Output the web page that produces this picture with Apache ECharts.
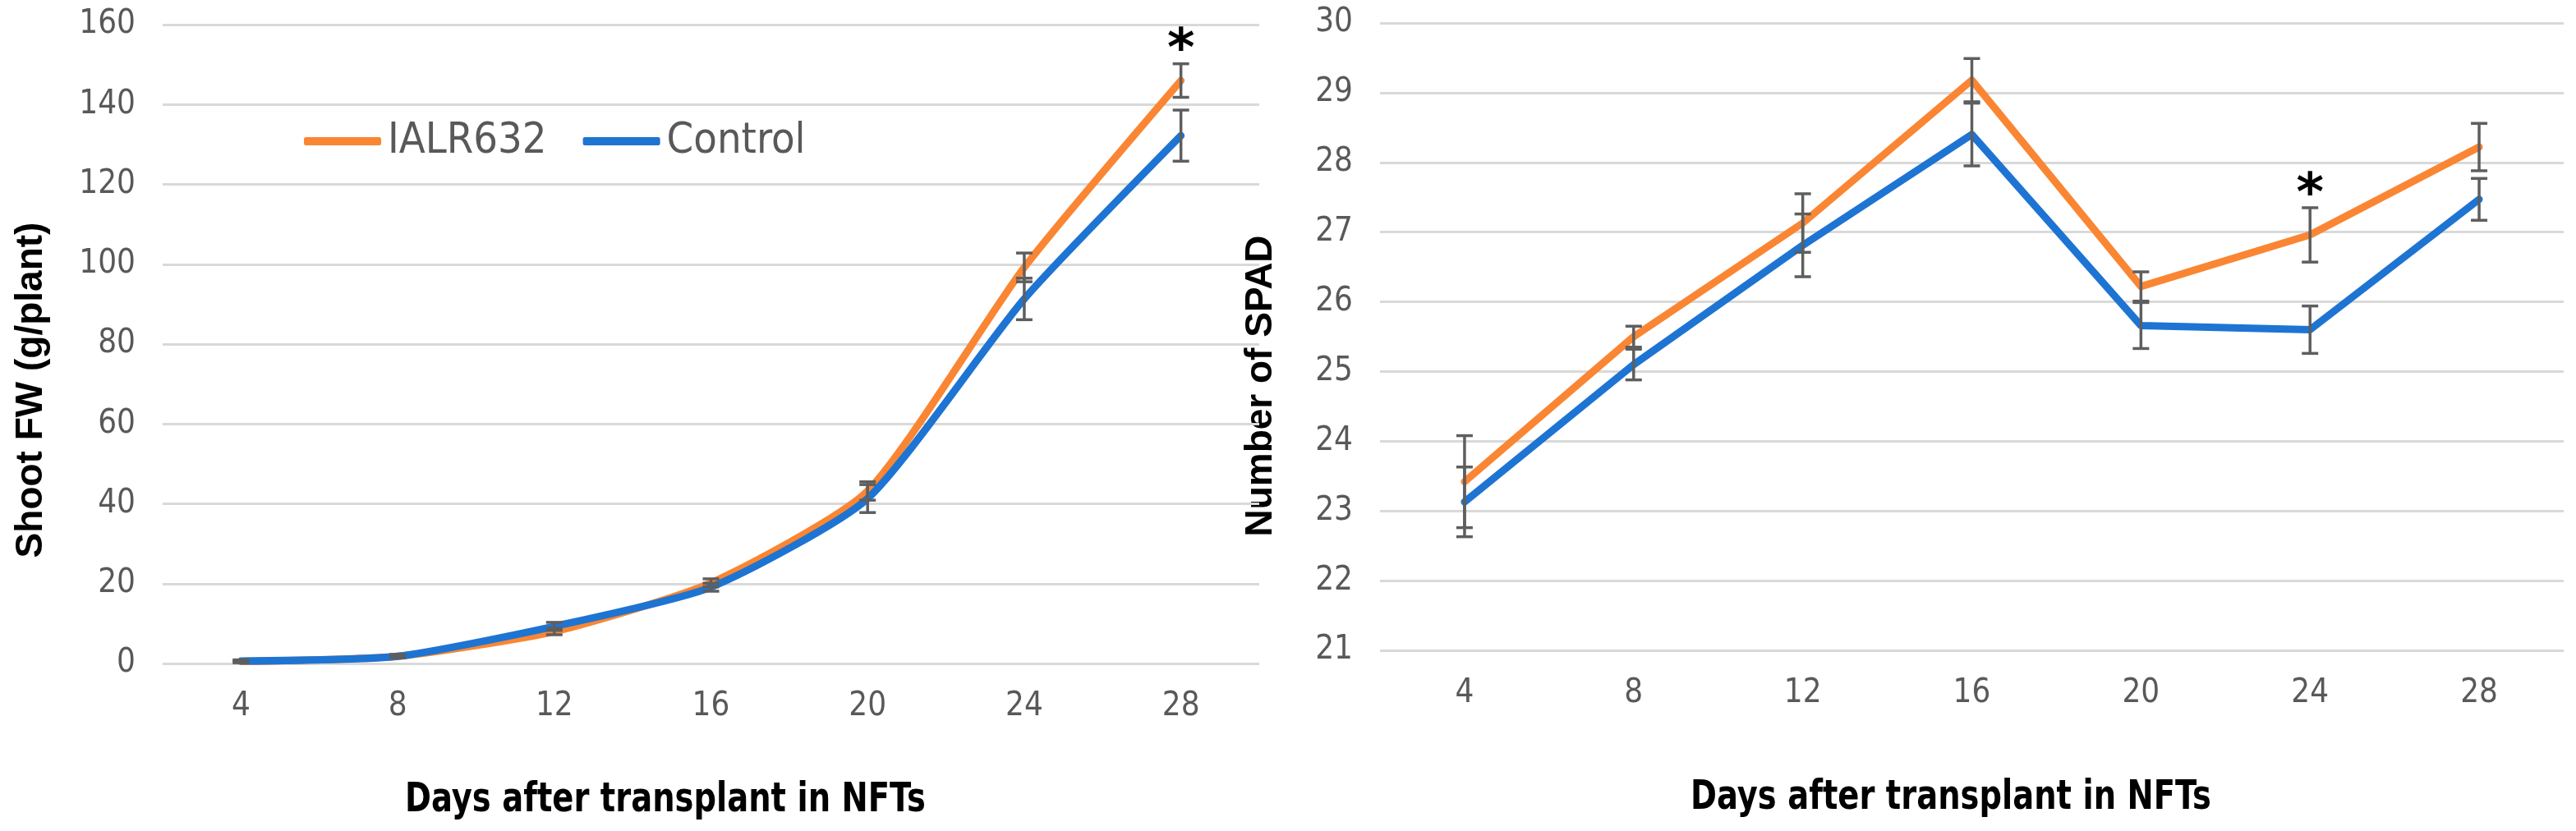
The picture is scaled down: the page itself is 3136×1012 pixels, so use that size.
<!DOCTYPE html>
<html><head><meta charset="utf-8">
<script src="https://cdn.jsdelivr.net/npm/echarts@6/dist/echarts.min.js"></script>
<style>html,body{margin:0;padding:0;background:#fff}#c{width:3136px;height:1012px}</style>
</head><body><div id="c"></div>
<script>
// ---- data ----
const days = ['4', '8', '12', '16', '20', '24', '28'];
const seriesNames = ['IALR632', 'Control'];

const fwIALR = [0.5, 1.8, 8.0, 20.2, 43.2, 99.2, 146.0];
const fwIALRErr = [0.3, 0.4, 0.8, 1.0, 2.3, 3.6, 4.2];
const fwControl = [0.6, 1.8, 9.3, 19.1, 41.3, 91.3, 132.2];
const fwControlErr = [0.3, 0.4, 1.0, 1.0, 3.5, 5.2, 6.4];
const fwSig = [0, 0, 0, 0, 0, 0, 1];

const spadIALR = [23.42, 25.50, 27.13, 29.18, 26.22, 26.96, 28.22];
const spadIALRErr = [0.66, 0.15, 0.42, 0.31, 0.21, 0.39, 0.34];
const spadControl = [23.13, 25.10, 26.81, 28.40, 25.66, 25.60, 27.47];
const spadControlErr = [0.50, 0.22, 0.45, 0.45, 0.33, 0.34, 0.30];
const spadSig = [0, 0, 0, 0, 0, 1, 0];

const fwAxis = { min: 0, max: 160, interval: 20 };
const spadAxis = { min: 21, max: 30, interval: 1 };

const axisTitles = {
  fwY: 'Shoot FW (g/plant)',
  spadY: 'Number of SPAD',
  x: 'Days after transplant in NFTs'
};

// ---- styles ----
const FONT = "'Liberation Sans Narrow','DejaVu Sans Condensed','Liberation Sans',sans-serif";
const ORANGE = '#FA8633', BLUE = '#1E74D2', ERR = '#5E5E5E', GRID = '#D9D9D9', TICK = '#595959';

const chart = echarts.init(document.getElementById('c'), null, { renderer: 'canvas' });

function errSeries(idx, values, errs, sig) {
  return {
    type: 'custom', xAxisIndex: idx, yAxisIndex: idx, z: 5, silent: true,
    data: values.map((v, i) => [i, v, errs[i], sig ? sig[i] : 0]),
    renderItem(params, api) {
      const i = api.value(0), v = api.value(1), e = api.value(2), s = api.value(3);
      const top = api.coord([i, v + e]), bot = api.coord([i, v - e]);
      const hw = 10, lw = 3.5;
      const st = { stroke: ERR, lineWidth: lw };
      const children = [
        { type: 'line', shape: { x1: top[0], y1: top[1], x2: bot[0], y2: bot[1] }, style: st },
        { type: 'line', shape: { x1: top[0] - hw, y1: top[1], x2: top[0] + hw, y2: top[1] }, style: st },
        { type: 'line', shape: { x1: bot[0] - hw, y1: bot[1], x2: bot[0] + hw, y2: bot[1] }, style: st }
      ];
      if (s) {
        children.push({ type: 'text', x: top[0], y: top[1] - 14,
          style: { text: '*', fill: '#000', font: "bold 64px 'DejaVu Sans'", align: 'center', verticalAlign: 'middle' } });
      }
      return { type: 'group', children };
    }
  };
}

function lineSeries(name, idx, data, color, smooth) {
  return {
    type: 'line', name, xAxisIndex: idx, yAxisIndex: idx, data, smooth,
    symbol: 'none', silent: true, z: 2,
    lineStyle: { color, width: 9, cap: 'round', join: 'round' },
    itemStyle: { color }
  };
}

const xAxisBase = (gi) => ({
  type: 'category', gridIndex: gi, data: days, boundaryGap: true,
  axisLine: { show: false }, axisTick: { show: false },
  axisLabel: { color: TICK, fontSize: 40, fontFamily: FONT, margin: 33 }
});
const yAxisBase = (gi, ax) => ({
  type: 'value', gridIndex: gi, min: ax.min, max: ax.max, interval: ax.interval,
  axisLine: { show: false }, axisTick: { show: false },
  splitLine: { lineStyle: { color: GRID, width: 3 } },
  axisLabel: { color: TICK, fontSize: 40, fontFamily: FONT, margin: 33 }
});

const titleFontX = "bold 50px 'DejaVu Sans', sans-serif";
const titleFontY = "bold 46px 'Liberation Sans', Arial, sans-serif";

const option = {
  animation: false,
  backgroundColor: '#fff',
  grid: [
    { left: 198, top: 30, width: 1335, height: 778, outerBoundsMode: 'none' },
    { left: 1680, top: 28, width: 1441, height: 764, outerBoundsMode: 'none' }
  ],
  xAxis: [xAxisBase(0), xAxisBase(1)],
  yAxis: [yAxisBase(0, fwAxis), yAxisBase(1, spadAxis)],
  legend: {
    data: seriesNames, left: 370, top: 146, icon: 'roundRect',
    itemWidth: 94, itemHeight: 10, itemGap: 44, padding: 0, selectedMode: false,
    textStyle: { fontSize: 52, color: TICK, fontFamily: FONT, padding: [0, 0, 0, 3] }
  },
  graphic: [
    { type: 'text', x: 38, y: 475, rotation: Math.PI / 2,
      style: { text: axisTitles.fwY, font: titleFontY, fill: '#000', align: 'center', verticalAlign: 'middle' } },
    { type: 'text', x: 1535, y: 470, rotation: Math.PI / 2,
      style: { text: axisTitles.spadY, font: titleFontY, fill: '#000', align: 'center', verticalAlign: 'middle' } },
    { type: 'text', x: 810, y: 975, scaleX: 0.77,
      style: { text: axisTitles.x, font: titleFontX, fill: '#000', align: 'center', verticalAlign: 'middle' } },
    { type: 'text', x: 2375, y: 972, scaleX: 0.77,
      style: { text: axisTitles.x, font: titleFontX, fill: '#000', align: 'center', verticalAlign: 'middle' } }
  ],
  series: [
    lineSeries(seriesNames[0], 0, fwIALR, ORANGE, 0.2),
    lineSeries(seriesNames[1], 0, fwControl, BLUE, 0.2),
    errSeries(0, fwIALR, fwIALRErr, fwSig),
    errSeries(0, fwControl, fwControlErr, null),
    lineSeries(seriesNames[0], 1, spadIALR, ORANGE, false),
    lineSeries(seriesNames[1], 1, spadControl, BLUE, false),
    errSeries(1, spadIALR, spadIALRErr, spadSig),
    errSeries(1, spadControl, spadControlErr, null)
  ]
};
chart.setOption(option);
</script>
</body></html>
